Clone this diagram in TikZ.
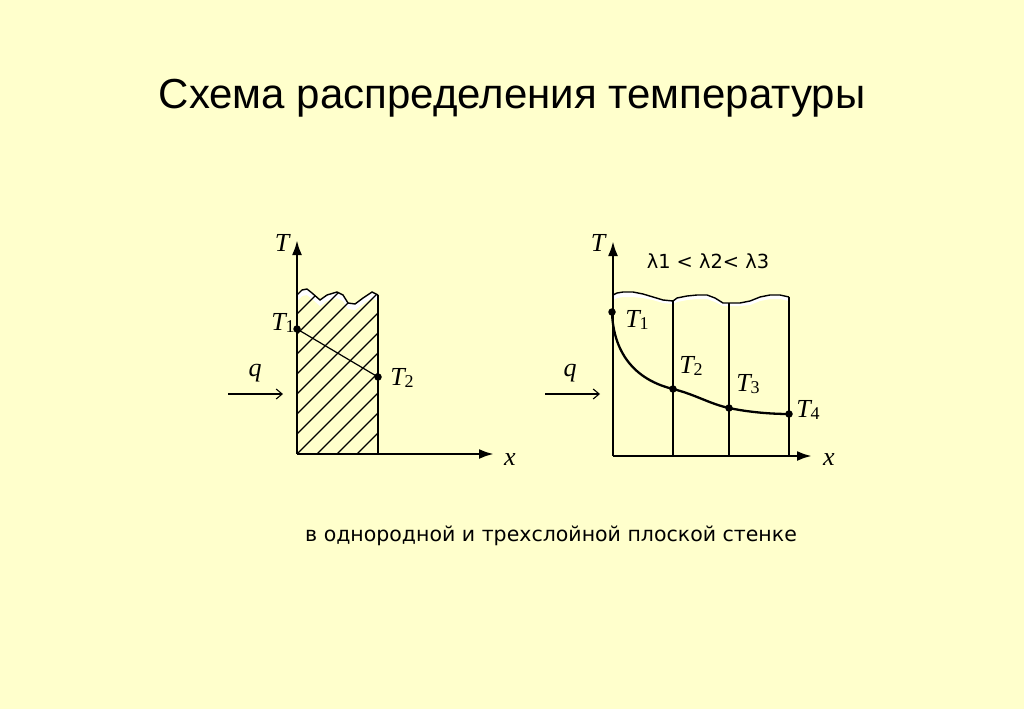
\documentclass[tikz,border=0pt]{standalone}
\usepackage{fontspec}
\setmainfont{Liberation Sans}
\newfontfamily\serifT{Liberation Serif}
\newfontfamily\tahomaish{DejaVu Sans}
\usetikzlibrary{arrows.meta}
\definecolor{bg}{HTML}{FFFFCC}
\newcommand{\lab}[2]{{\serifT\fontsize{26}{26}\selectfont\itshape #1}\raisebox{-0.3ex}{\serifT\fontsize{18}{18}\selectfont #2}}
\newcommand{\lwave}{(297,295) -- (302,290) -- (307,289) -- (312,293) -- (320,300) -- (327,295) -- (337,292) -- (343,295) -- (348,303) -- (355,304) -- (363,298) -- (372,292) -- (378,295)}
\newcommand{\rwave}{(613,295) -- (617,293) -- (623,292) -- (633,292) -- (643,294) -- (653,297) -- (663,300) -- (673,301) -- (677,298) -- (687,296) -- (697,295) -- (707,295) -- (715,298) -- (723,303) -- (729,303) -- (740,303) -- (750,301) -- (760,297) -- (770,295) -- (780,295) -- (789,297)}
\begin{document}
\begin{tikzpicture}[x=1pt,y=-1pt,
  axis/.style={line width=2.6pt,-{Latex[length=15pt,width=10pt]}},
  wall/.style={line width=1.2pt},
  waveline/.style={line width=1.4pt},
  hatch/.style={line width=1.1pt},
  curveline/.style={line width=2.3pt},
  qarrow/.style={line width=1.1pt,-{Straight Barb[length=6pt,width=10pt]}},
  dot/.style={circle,fill=black,inner sep=0pt,minimum size=7.5pt},
  mlab/.style={inner sep=0pt,anchor=center},
  ]
\useasboundingbox (0,0) rectangle (1024,709);
\fill[bg] (0,0) rectangle (1024,709);

% title
\node[inner sep=0pt] (title) at (512,98) {\fontsize{42}{46}\selectfont Схема распределения температуры};
\node[inner sep=0pt] (sub) at (551,536) {\tahomaish\fontsize{20.5}{22}\selectfont в однородной и трехслойной плоской стенке};

% ---------- left diagram ----------
\coordinate (LO) at (297,454);
\coordinate (LYT) at (297,240);
\coordinate (LXT) at (494,454);
\coordinate (LWB) at (378,454);
\coordinate (LWT) at (378,295);

% white band under wave
\fill[white] \lwave -- (378,301) -- (372,298) -- (363,304) -- (355,310) -- (348,309) -- (343,301) -- (337,298) -- (327,301) -- (320,306) -- (312,299) -- (307,295) -- (302,296) -- (297,301) -- cycle;
% hatching clipped to wall
\begin{scope}
\clip \lwave -- (378,454) -- (297,454) -- cycle;
\foreach \c in {157,177,...,357} {
  \draw[hatch] (\c,454) -- ++(200,-200);
}
\end{scope}
\draw[waveline] \lwave;
\draw[wall] (LWT) -- (LWB);
\draw[axis] (LO) -- (LYT);
\draw[axis] (LO) -- (LXT);

\node[dot] (L1) at (297,329) {};
\node[dot] (L2) at (378,377) {};
\draw[line width=1.2pt] (L1.center) -- (L2.center);

\node[mlab] (LTl) at (282,244) {\lab{T}{}};
\node[mlab] (L1l) at (283,323) {\lab{T}{1}};
\node[mlab] (L2l) at (402,378) {\lab{T}{2}};
\node[mlab] (Lxl) at (510,460) {\lab{x}{}};
\node[mlab] (Lql) at (255,373) {\lab{q}{}};
\coordinate (Lq1) at (228,394);
\coordinate (Lq2) at (283,394);
\draw[qarrow] (Lq1) -- (Lq2);

% ---------- right diagram ----------
\coordinate (RO) at (613,456);
\coordinate (RYT) at (613,241);
\coordinate (RXT) at (812,456);

\fill[white] \rwave -- (789,301) -- (780,299) -- (770,299) -- (760,301) -- (750,305) -- (740,306) -- (729,306) -- (723,306) -- (715,302) -- (707,299) -- (697,299) -- (687,300) -- (677,302) -- (673,304) -- (663,303) -- (653,300) -- (643,298) -- (633,297) -- (623,297) -- (617,298) -- (613,300) -- cycle;
\draw[waveline] \rwave;
\draw[wall] (673,301) -- (673,456);
\draw[wall] (729,303) -- (729,456);
\draw[wall] (789,297) -- (789,456);
\draw[axis] (RO) -- (RYT);
\draw[axis] (RO) -- (RXT);

\node[dot] (R1) at (612,312) {};
\node[dot] (R2) at (673,389) {};
\node[dot] (R3) at (729,408) {};
\node[dot] (R4) at (789,414) {};
\draw[curveline] (R1.center) .. controls (613,345) and (628,378) .. (R2.center)
  .. controls (695,394.4) and (710,404) .. (R3.center)
  .. controls (748,412) and (770,414) .. (R4.center);

\node[mlab] (RTl) at (598,244) {\lab{T}{}};
\node[mlab] (R1l) at (637,320) {\lab{T}{1}};
\node[mlab] (R2l) at (691,366) {\lab{T}{2}};
\node[mlab] (R3l) at (748,384) {\lab{T}{3}};
\node[mlab] (R4l) at (808,410) {\lab{T}{4}};
\node[mlab] (Rxl) at (829,460) {\lab{x}{}};
\node[mlab] (Rql) at (570,373) {\lab{q}{}};
\node[inner sep=0pt] (lam) at (708,261) {\tahomaish\fontsize{19.4}{20}\selectfont λ1 < λ2< λ3};
\coordinate (Rq1) at (545,394);
\coordinate (Rq2) at (600,394);
\draw[qarrow] (Rq1) -- (Rq2);
\end{tikzpicture}
\end{document}
